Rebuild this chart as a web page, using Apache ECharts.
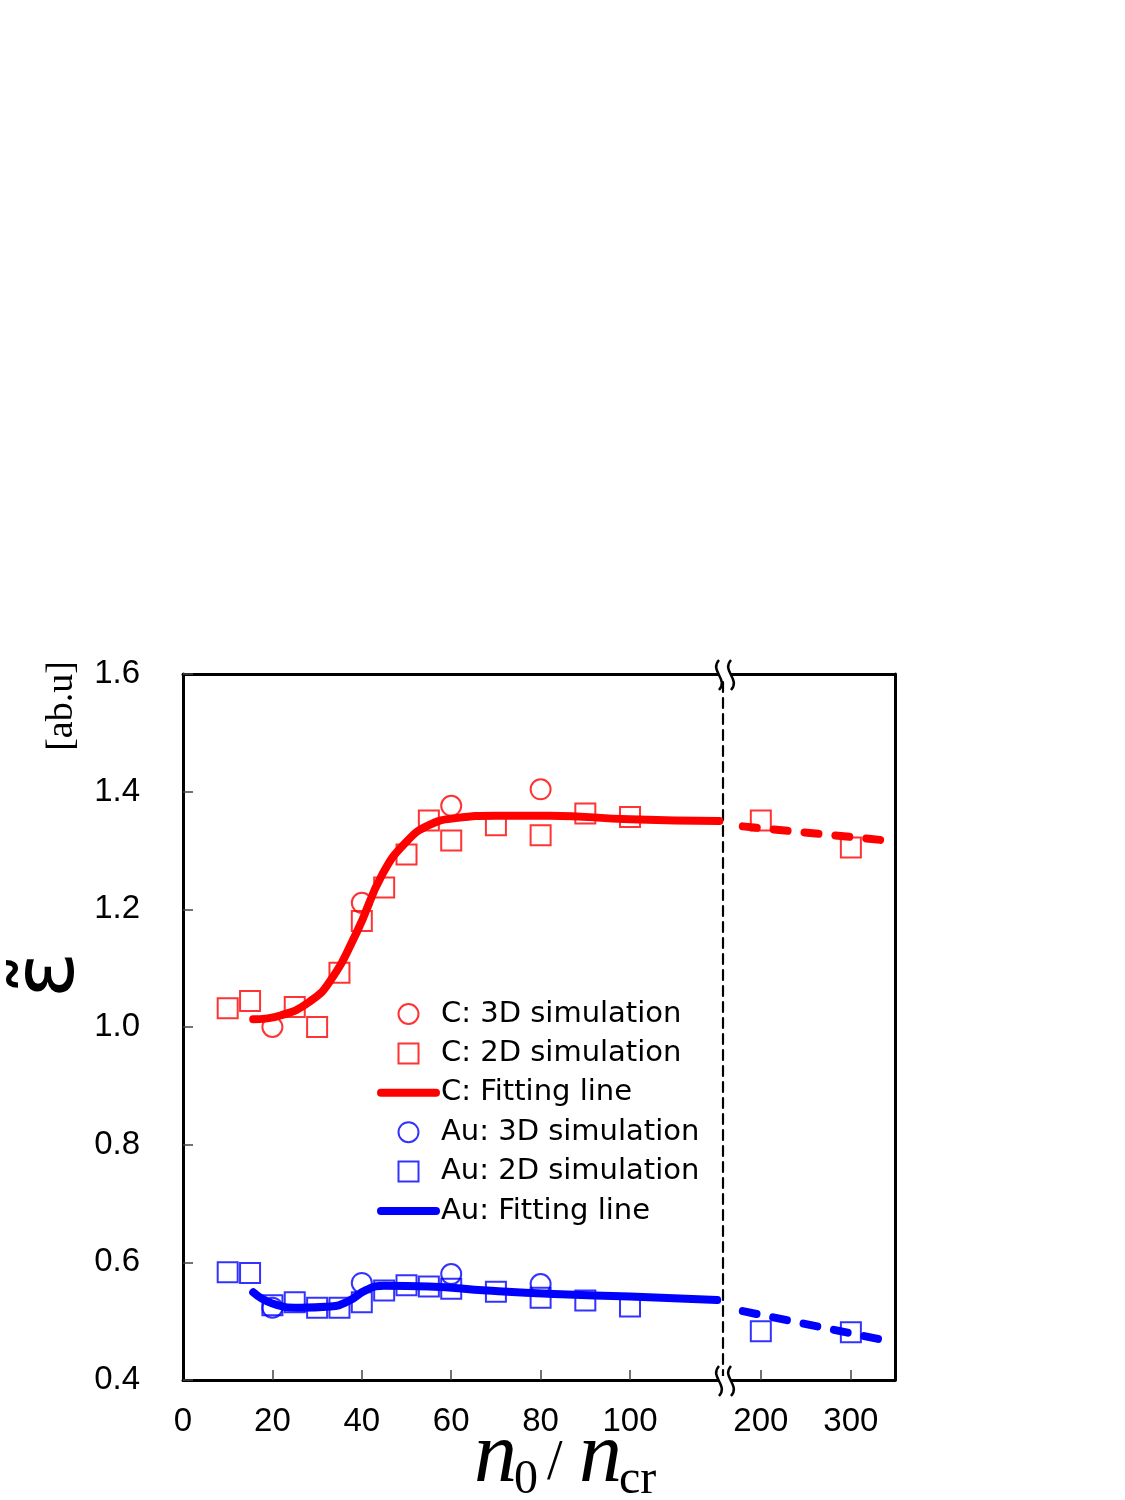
<!DOCTYPE html>
<html>
<head>
<meta charset="utf-8">
<script src="https://cdn.jsdelivr.net/npm/echarts@6/dist/echarts.min.js"></script>
<style>html,body{margin:0;padding:0;background:#fff;}#c{width:1125px;height:1500px;}</style>
</head>
<body>
<div id="c"></div>
<script>
// ---- data ----
const cX3D = [20, 40, 60, 80];
const cY3D = [1.000, 1.211, 1.376, 1.404];
const cX2D = [10, 15, 25, 30, 35, 40, 45, 50, 55, 60, 70, 80, 90, 100];
const cY2D = [1.032, 1.044, 1.034, 1.000, 1.092, 1.180, 1.237, 1.293, 1.351, 1.317, 1.343, 1.326, 1.363, 1.357];
const cX2DHigh = [200, 300];
const cY2DHigh = [1.351, 1.305];
const cFitX = [15.7, 22, 28.3, 32.8, 38.8, 44.7, 50, 55, 61, 70, 82, 100, 120];
const cFitY = [1.013, 1.020, 1.043, 1.077, 1.160, 1.261, 1.315, 1.343, 1.355, 1.359, 1.359, 1.353, 1.350];
const cFitHighX = [180, 333];
const cFitHighY = [1.341, 1.318];

const auX3D = [20, 40, 60, 80];
const auY3D = [0.523, 0.565, 0.580, 0.563];
const auX2D = [10, 15, 20, 25, 30, 35, 40, 45, 50, 55, 60, 70, 80, 90, 100];
const auY2D = [0.583, 0.582, 0.527, 0.532, 0.523, 0.523, 0.532, 0.552, 0.561, 0.559, 0.555, 0.550, 0.540, 0.535, 0.525];
const auX2DHigh = [200, 300];
const auY2DHigh = [0.483, 0.481];
const auFitX = [15.7, 20, 26, 33, 37, 41, 45, 55, 68, 83, 100, 119.5];
const auFitY = [0.549, 0.530, 0.523, 0.525, 0.534, 0.553, 0.560, 0.559, 0.552, 0.546, 0.542, 0.536];
const auFitHighX = [180, 333];
const auFitHighY = [0.517, 0.469];

const xTicksLow = [0, 20, 40, 60, 80, 100];
const xTicksHigh = [200, 300];
const seriesNames = ['C: 3D simulation', 'C: 2D simulation', 'C: Fitting line',
                     'Au: 3D simulation', 'Au: 2D simulation', 'Au: Fitting line'];

const zip = (xs, ys) => xs.map((x, i) => [x, ys[i]]);
const RED = '#ff0000', BLUE = '#0000ff';
const numFont = '"Liberation Sans", Arial, sans-serif';
const SQUARE = 'path://M0,0L10,0L10,10L0,10Z';

function scatter(name, xs, ys, sym, color, xi, yi) {
  return {
    name, type: 'scatter', xAxisIndex: xi, yAxisIndex: yi, data: zip(xs, ys),
    symbol: sym, symbolSize: 20, z: 3,
    itemStyle: { color: 'rgba(255,255,255,0)', borderColor: color, borderWidth: 2 }
  };
}
function fit(name, xs, ys, color, xi, yi, dashed) {
  return {
    name, type: 'line', xAxisIndex: xi, yAxisIndex: yi, data: zip(xs, ys),
    symbol: 'none', smooth: dashed ? false : 0.5, z: 4,
    itemStyle: { color },
    lineStyle: { color, width: 8, cap: 'round', join: 'round', type: dashed ? [14, 17] : 'solid' }
  };
}

const axisLineStyle = { color: '#000', width: 3 };
const common = { top: 674, height: 706 };
const tickStyle = { color: '#444', width: 1.5 };

const option = {
  backgroundColor: '#fff',
  animation: false,
  grid: [
    Object.assign({ left: 183, width: 540 }, common),
    Object.assign({ left: 723, width: 172 }, common)
  ],
  xAxis: [
    { type: 'value', gridIndex: 0, min: 0, max: 120.8, position: 'bottom',
      axisLine: { show: true, onZero: false, lineStyle: axisLineStyle },
      axisTick: { show: true, inside: true, length: 10, customValues: [20, 40, 60, 80, 100], lineStyle: tickStyle },
      axisLabel: { customValues: xTicksLow, margin: 25, color: '#000', fontSize: 33, fontFamily: numFont },
      splitLine: { show: false } },
    { type: 'value', gridIndex: 1, min: 158, max: 349, position: 'bottom',
      axisLine: { show: true, onZero: false, lineStyle: axisLineStyle },
      axisTick: { show: true, inside: true, length: 10, customValues: xTicksHigh, lineStyle: tickStyle },
      axisLabel: { customValues: xTicksHigh, margin: 25, color: '#000', fontSize: 33, fontFamily: numFont },
      splitLine: { show: false } },
    { type: 'value', gridIndex: 0, min: 0, max: 120.8, position: 'top',
      axisLine: { show: true, onZero: false, lineStyle: axisLineStyle },
      axisTick: { show: false }, axisLabel: { show: false }, splitLine: { show: false } },
    { type: 'value', gridIndex: 1, min: 158, max: 349, position: 'top',
      axisLine: { show: true, onZero: false, lineStyle: axisLineStyle },
      axisTick: { show: false }, axisLabel: { show: false }, splitLine: { show: false } }
  ],
  yAxis: [
    { type: 'value', gridIndex: 0, min: 0.4, max: 1.6, interval: 0.2, position: 'left',
      axisLine: { show: true, onZero: false, lineStyle: axisLineStyle },
      axisTick: { show: true, inside: true, length: 10, lineStyle: tickStyle },
      axisLabel: { margin: 43, color: '#000', fontSize: 33, fontFamily: numFont,
                   formatter: v => v.toFixed(1) },
      splitLine: { show: false } },
    { type: 'value', gridIndex: 1, min: 0.4, max: 1.6, interval: 0.2, position: 'left',
      axisLine: { show: true, onZero: false, lineStyle: { color: '#000', width: 2.2, type: [10, 6] } },
      axisTick: { show: false }, axisLabel: { show: false }, splitLine: { show: false } },
    { type: 'value', gridIndex: 1, min: 0.4, max: 1.6, interval: 0.2, position: 'right',
      axisLine: { show: true, onZero: false, lineStyle: axisLineStyle },
      axisTick: { show: false }, axisLabel: { show: false }, splitLine: { show: false } }
  ],
  legend: {
    orient: 'vertical', left: 377, top: 999, padding: 0,
    itemWidth: 55, itemHeight: 20, itemGap: 9.4,
    data: [
      { name: seriesNames[0] },
      { name: seriesNames[1], icon: SQUARE },
      { name: seriesNames[2], itemStyle: { opacity: 0 } },
      { name: seriesNames[3] },
      { name: seriesNames[4], icon: SQUARE },
      { name: seriesNames[5], itemStyle: { opacity: 0 } }
    ],
    lineStyle: { width: 'inherit', cap: 'round' },
    textStyle: { color: '#000', fontSize: 29, lineHeight: 30, fontFamily: '"DejaVu Sans", sans-serif' }
  },
  series: [
    scatter(seriesNames[0], cX3D, cY3D, 'circle', RED, 0, 0),
    scatter(seriesNames[1], cX2D, cY2D, 'rect', RED, 0, 0),
    fit(seriesNames[2], cFitX, cFitY, RED, 0, 0, false),
    scatter(seriesNames[3], auX3D, auY3D, 'circle', BLUE, 0, 0),
    scatter(seriesNames[4], auX2D, auY2D, 'rect', BLUE, 0, 0),
    fit(seriesNames[5], auFitX, auFitY, BLUE, 0, 0, false),
    scatter(seriesNames[1], cX2DHigh, cY2DHigh, 'rect', RED, 1, 1),
    fit(seriesNames[2], cFitHighX, cFitHighY, RED, 1, 1, true),
    scatter(seriesNames[4], auX2DHigh, auY2DHigh, 'rect', BLUE, 1, 1),
    fit(seriesNames[5], auFitHighX, auFitHighY, BLUE, 1, 1, true)
  ],
  graphic: [
    // axis-break marks
    { type: 'rect', shape: { x: 718, y: 670, width: 12, height: 8 }, style: { fill: '#fff' }, z: 100 },
    { type: 'rect', shape: { x: 718, y: 1376, width: 12, height: 8 }, style: { fill: '#fff' }, z: 100 },
    { type: 'bezierCurve', shape: { x1: 719, y1: 660, cpx1: 709, cpy1: 671, cpx2: 729, cpy2: 679, x2: 719, y2: 690 }, style: { stroke: '#000', lineWidth: 2.5, fill: null }, z: 101 },
    { type: 'bezierCurve', shape: { x1: 731, y1: 660, cpx1: 721, cpy1: 671, cpx2: 741, cpy2: 679, x2: 731, y2: 690 }, style: { stroke: '#000', lineWidth: 2.5, fill: null }, z: 101 },
    { type: 'bezierCurve', shape: { x1: 719, y1: 1366, cpx1: 709, cpy1: 1377, cpx2: 729, cpy2: 1385, x2: 719, y2: 1396 }, style: { stroke: '#000', lineWidth: 2.5, fill: null }, z: 101 },
    { type: 'bezierCurve', shape: { x1: 731, y1: 1366, cpx1: 721, cpy1: 1377, cpx2: 741, cpy2: 1385, x2: 731, y2: 1396 }, style: { stroke: '#000', lineWidth: 2.5, fill: null }, z: 101 },
    // y-axis title
    { type: 'text', x: 51, y: 975, rotation: Math.PI / 2,
      style: { text: 'ε̃', fontSize: 86, fontFamily: '"DejaVu Sans", sans-serif', fill: '#000', align: 'center', verticalAlign: 'middle' } },
    { type: 'text', x: 62, y: 706, rotation: Math.PI / 2,
      style: { text: '[ab.u]', fontSize: 38, fontFamily: '"Liberation Serif", serif', fill: '#000', align: 'center', verticalAlign: 'middle' } },
    // x-axis title  n0 / ncr
    { type: 'text', x: 474, y: 1458, style: { text: 'n', fontSize: 86, fontStyle: 'italic', fontFamily: '"Liberation Serif", serif', fill: '#000', align: 'left', verticalAlign: 'middle' } },
    { type: 'text', x: 514, y: 1480, style: { text: '0', fontSize: 48, fontFamily: '"Liberation Serif", serif', fill: '#000', align: 'left', verticalAlign: 'middle' } },
    { type: 'text', x: 547, y: 1464, style: { text: '/', fontSize: 56, fontFamily: '"Liberation Serif", serif', fill: '#000', align: 'left', verticalAlign: 'middle' } },
    { type: 'text', x: 579, y: 1458, style: { text: 'n', fontSize: 86, fontStyle: 'italic', fontFamily: '"Liberation Serif", serif', fill: '#000', align: 'left', verticalAlign: 'middle' } },
    { type: 'text', x: 619, y: 1480, style: { text: 'cr', fontSize: 48, fontFamily: '"Liberation Serif", serif', fill: '#000', align: 'left', verticalAlign: 'middle' } }
  ]
};

const chart = echarts.init(document.getElementById('c'), null, { renderer: 'canvas' });
chart.setOption(option);
</script>
</body>
</html>
